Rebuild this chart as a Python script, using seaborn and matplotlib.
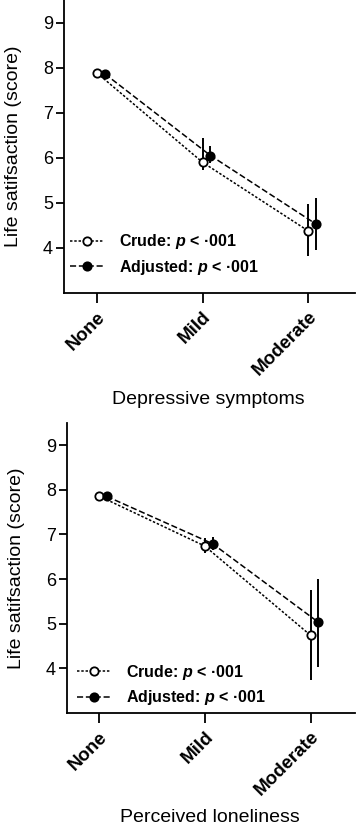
import numpy as np
import pandas as pd
import matplotlib
matplotlib.use("Agg")
import matplotlib.pyplot as plt
import seaborn as sns

# categories and panel titles
categories = ["None", "Mild", "Moderate"]
panel_labels = ["Depressive symptoms", "Perceived loneliness"]

# depressive symptoms: means and CI bounds
dep_crude = [7.88, 5.90, 4.38]
dep_crude_low = [7.83, 5.72, 3.82]
dep_crude_high = [7.93, 6.44, 4.98]
dep_adj = [7.86, 6.05, 4.53]
dep_adj_low = [7.81, 5.89, 3.96]
dep_adj_high = [7.91, 6.27, 5.11]

# perceived loneliness: means and CI bounds
lon_crude = [7.86, 6.74, 4.74]
lon_crude_low = [7.81, 6.58, 3.75]
lon_crude_high = [7.91, 6.92, 5.75]
lon_adj = [7.85, 6.79, 5.03]
lon_adj_low = [7.80, 6.64, 4.03]
lon_adj_high = [7.90, 6.93, 6.01]

legend_labels = [r"Crude: $p$ < ·001", r"Adjusted: $p$ < ·001"]

sns.set_style("ticks")
plt.rcParams["font.family"] = ["Liberation Sans", "DejaVu Sans"]
plt.rcParams["mathtext.fontset"] = "custom"
plt.rcParams["mathtext.it"] = "Liberation Sans:italic:bold"
plt.rcParams["mathtext.rm"] = "Liberation Sans:bold"
for k in ["text.color", "axes.labelcolor", "xtick.color", "ytick.color", "axes.edgecolor"]:
    plt.rcParams[k] = "black"

fig = plt.figure(figsize=(3.59, 8.27), dpi=100)
W, H = 359, 827
ax1 = fig.add_axes([64 / W, 1 - 293 / H, (355 - 64) / W, 293 / H])
ax2 = fig.add_axes([67 / W, 1 - 713 / H, (355 - 67) / W, (713 - 422.7) / H])

panels = [
    (ax1, dep_crude, dep_crude_low, dep_crude_high, dep_adj, dep_adj_low, dep_adj_high,
     (-0.313, 2.445), (0.021, 0.055), -0.335),
    (ax2, lon_crude, lon_crude_low, lon_crude_high, lon_adj, lon_adj_low, lon_adj_high,
     (-0.30, 2.42), (0.035, 0.02), -0.33),
]

pos = np.arange(len(categories))
shift = 0.075

for i, (ax, c, cl, ch, a, al, ah, xl, leg_anchor, xlab_y) in enumerate(panels):
    df = pd.DataFrame({
        "x": np.concatenate([pos, pos + shift]),
        "y": c + a,
        "low": cl + al,
        "high": ch + ah,
        "model": ["crude"] * 3 + ["adjusted"] * 3,
    })
    dc = df[df.model == "crude"]
    da = df[df.model == "adjusted"]

    # error bars
    for d in (dc, da):
        ax.errorbar(d.x, d.y, yerr=[d.y - d.low, d.high - d.y], fmt="none",
                    ecolor="black", elinewidth=1.4, capsize=0, zorder=2)

    sns.lineplot(data=dc, x="x", y="y", ax=ax, color="black", linewidth=1.1,
                 linestyle=(0, (1.6, 1.2)), marker="o", markersize=6,
                 markerfacecolor="white", markeredgecolor="black",
                 markeredgewidth=1.3, label=legend_labels[0], zorder=3)
    sns.lineplot(data=da, x="x", y="y", ax=ax, color="black", linewidth=1.1,
                 linestyle=(0, (4, 1.8)), marker="o", markersize=6,
                 markerfacecolor="black", markeredgecolor="black",
                 markeredgewidth=1.3, label=legend_labels[1], zorder=3)

    ax.set_xlim(*xl)
    ax.set_ylim(3, 9.5)
    ax.set_yticks([4, 5, 6, 7, 8, 9])
    ax.set_xticks(pos)
    ax.set_xticklabels(categories, rotation=45, ha="right", rotation_mode="anchor",
                       fontweight="bold")
    ax.tick_params(axis="x", length=7, width=1.3, labelsize=13.5, pad=4)
    ax.tick_params(axis="y", length=6, width=1.3, labelsize=13, pad=2)
    for s in ["left", "bottom"]:
        ax.spines[s].set_linewidth(1.3)
    sns.despine(ax=ax)

    ax.set_ylabel("Life satifsaction (score)", fontsize=14)
    ax.set_xlabel(panel_labels[i], fontsize=14)
    ax.yaxis.set_label_coords(-0.145, 0.5)
    ax.xaxis.set_label_coords(0.495, xlab_y)

    ax.legend(loc="lower left", bbox_to_anchor=leg_anchor, frameon=False,
              handlelength=2.1, handletextpad=0.95, labelspacing=0.4,
              borderpad=0, borderaxespad=0,
              prop={"weight": "bold", "size": 11.5})

fig.savefig("out.png", dpi=100)
